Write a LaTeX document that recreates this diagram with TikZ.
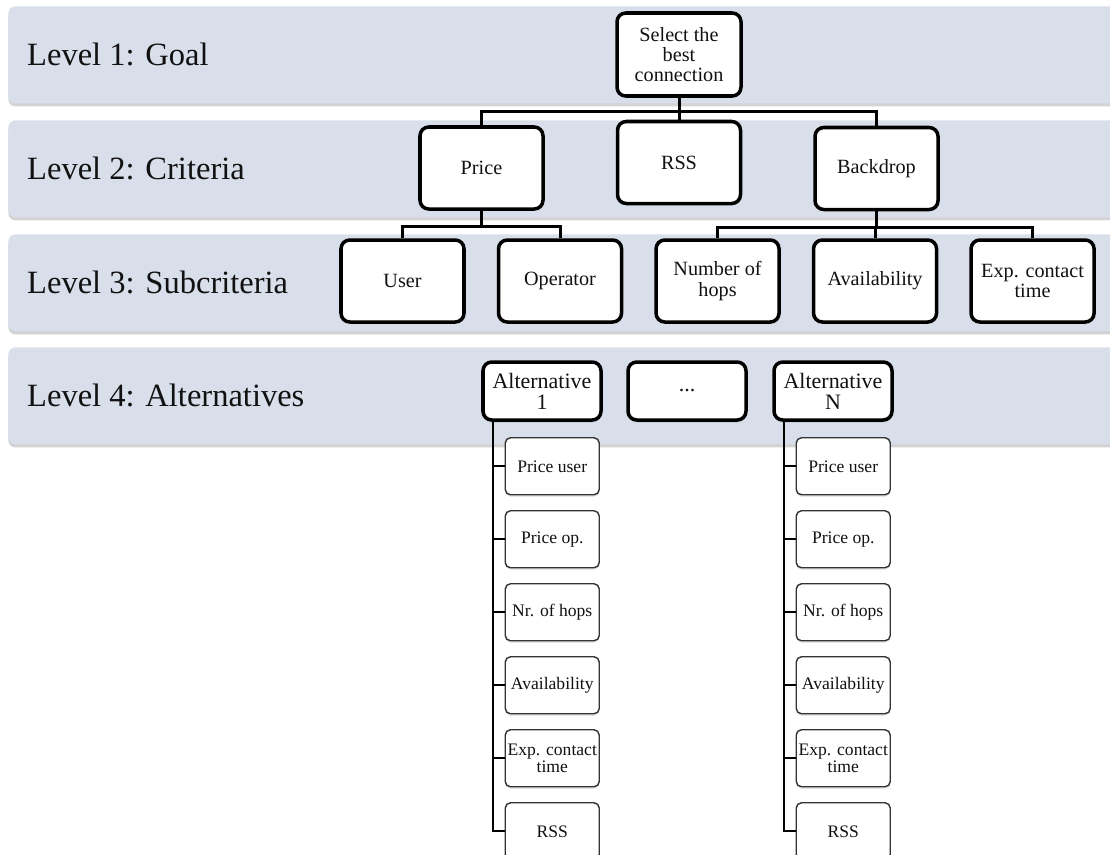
\documentclass[tikz,border=0pt]{standalone}
\usepackage{fontspec}
\setmainfont{Liberation Serif}
\usetikzlibrary{positioning,calc,shadows}
\definecolor{cBand}{HTML}{D9DFEA}
\definecolor{cInk}{HTML}{111111}

\begin{document}
\begin{tikzpicture}[
    every node/.style={text=cInk},
    band/.style={
        rectangle, rounded corners=4pt, fill=cBand, draw=none,
        minimum width=22.4cm, minimum height=1.94cm, anchor=north west,
        drop shadow={shadow xshift=0pt, shadow yshift=-0.6mm, opacity=0.35}
    },
    levellbl/.style={font=\fontsize{18.5}{18.5}\selectfont, anchor=west},
    crit/.style={
        rectangle, rounded corners=5pt, draw=black, line width=2pt,
        fill=white, minimum width=2.46cm, minimum height=1.64cm,
        align=center, inner sep=2pt, font=\fontsize{11.5}{11.5}\selectfont
    },
    altbox/.style={
        crit, minimum width=2.36cm, minimum height=1.16cm,
        font=\fontsize{12.5}{12}\selectfont,
        drop shadow={shadow xshift=0pt, shadow yshift=-0.5mm, opacity=0.25}
    },
    sub/.style={
        rectangle, rounded corners=3pt, draw=black!80, line width=0.8pt,
        fill=white, minimum width=1.88cm, minimum height=1.14cm,
        align=center, inner sep=1pt, font=\fontsize{10}{10}\selectfont,
        drop shadow={shadow xshift=0pt, shadow yshift=-0.4mm, opacity=0.2}
    },
    link/.style={line width=1.7pt, draw=black},
    spine/.style={line width=1.1pt, draw=black},
]

\useasboundingbox (0,0) rectangle (22.2,-17.08);

% =====================================================
% Level bands
% =====================================================

\node[band] (band1) at (0.16,-0.12) {};
\node[band] (band2) at (0.16,-2.40) {};
\node[band] (band3) at (0.16,-4.68) {};
\node[band] (band4) at (0.16,-6.94) {};

\node[levellbl, xshift=2.6mm] (lvl1) at (band1.west) {Level 1: Goal};
\node[levellbl, xshift=2.6mm] (lvl2) at (band2.west) {Level 2: Criteria};
\node[levellbl, xshift=2.6mm] (lvl3) at (band3.west) {Level 3: Subcriteria};
\node[levellbl, xshift=2.6mm] (lvl4) at (band4.west) {Level 4: Alternatives};

% =====================================================
% Goal and criteria
% =====================================================

\node[crit, minimum width=2.48cm, minimum height=1.66cm] (goal) at (13.58,-1.09) {Select the\\best\\connection};
\node[crit] (price)    at (9.63,-3.36)  {Price};
\node[crit] (rss)      at (13.58,-3.25) {RSS};
\node[crit] (backdrop) at (17.53,-3.37) {Backdrop};

\coordinate (j1) at ($(goal.south)+(0,-0.28)$);
\draw[link] (goal.south) -- (j1) -| (price.north);
\draw[link] (j1) -| (backdrop.north);
\draw[link] (j1) -- (rss.north);

% =====================================================
% Subcriteria
% =====================================================

\node[crit] (user) at (8.05,-5.62) {User};
\node[crit, right=0.62cm of user]     (operator) {Operator};
\node[crit, right=0.62cm of operator] (hops)     {Number of\\hops};
\node[crit, right=0.62cm of hops]     (avail)    {Availability};
\node[crit, right=0.62cm of avail]    (contact)  {Exp. contact\\time};

\coordinate (j2) at ($(price.south)+(0,-0.32)$);
\draw[link] (price.south) -- (j2) -| (user.north);
\draw[link] (j2) -| (operator.north);

\coordinate (j3) at ($(backdrop.south)+(0,-0.32)$);
\draw[link] (backdrop.south) -- (j3) -| (hops.north);
\draw[link] (j3) -| (contact.north);
\draw[link] (j3) -| (avail.north);

% =====================================================
% Alternatives
% =====================================================

\node[altbox] (alt1)    at (10.84,-7.82) {Alternative\\1};
\node[altbox] (altdots) at (13.74,-7.82) {...};
\node[altbox] (altN)    at (16.66,-7.82) {Alternative\\N};

\foreach \col in {1,N}{
  \foreach \txt [count=\i] in {Price user,Price op.,Nr. of hops,Availability,{Exp. contact\\time},RSS}{
    \node[sub] (s\col\i) at ($(alt\col.south west)+(1.42,-0.89-\i*1.46+1.46)$) {\txt};
    \draw[spine] ($(alt\col.south west)+(0.24,0)$) |- (s\col\i.west);
  }
}

\end{tikzpicture}
\end{document}
